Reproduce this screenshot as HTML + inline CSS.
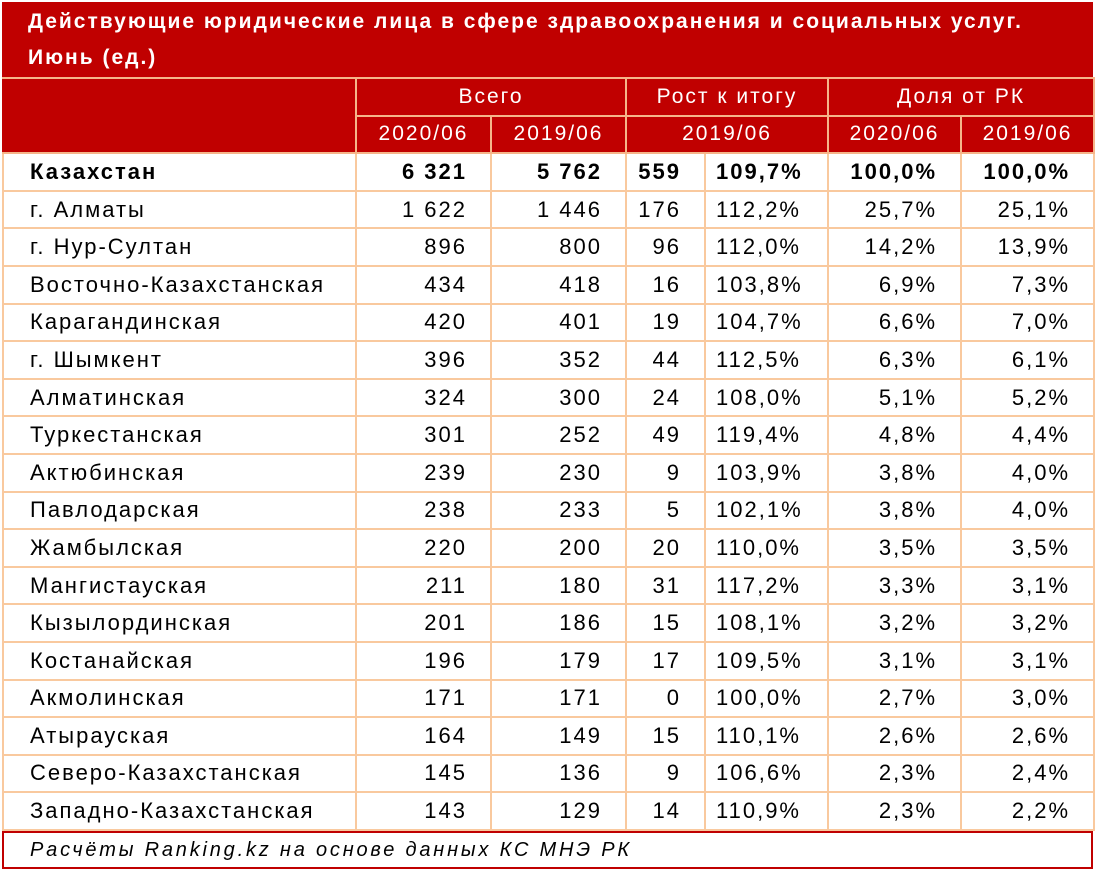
<!DOCTYPE html>
<html><head><meta charset="utf-8"><style>
body{margin:0;background:#fff;width:1097px;height:872px;overflow:hidden;font-family:"Liberation Sans",sans-serif;letter-spacing:2px;}
#w{position:absolute;left:2px;top:2px;width:1091px;}
.title{background:#C00000;color:#fff;font-weight:bold;font-size:21px;height:75px;padding-left:26px;line-height:36px;box-sizing:border-box;padding-top:2px;}
table{border-collapse:collapse;table-layout:fixed;width:1091px;font-size:22px;}
tr{height:37.6px;}
td{border:2px solid #F9C99E;padding:0 23px 0 8px;text-align:right;white-space:nowrap;overflow:hidden;}
td.l{text-align:left;padding-left:26px;}
tr.h td{background:#C00000;color:#fff;text-align:center;border-color:#F5B58A;padding:0;font-size:21px;}
tr.b td{font-weight:bold;}
td.c{text-align:left;padding-left:10px;}
.foot{border:2px solid #C00000;height:38px;box-sizing:border-box;font-style:italic;font-size:20px;letter-spacing:2.8px;padding-left:26px;line-height:34px;}
.tb{border-left:2px solid #C00000;border-right:2px solid #C00000;}
</style></head><body><div id="w">
<div class="title">Действующие юридические лица в сфере здравоохранения и социальных услуг.<br>Июнь (ед.)</div>
<table class="tb">
<colgroup><col style="width:353px"><col style="width:135px"><col style="width:135px"><col style="width:79px"><col style="width:123px"><col style="width:133px"><col style="width:133px"></colgroup>
<tr class="h"><td rowspan="2" style="border-left-color:#C00000"></td><td colspan="2">Всего</td><td colspan="2">Рост к итогу</td><td colspan="2">Доля от РК</td></tr>
<tr class="h"><td>2020/06</td><td>2019/06</td><td colspan="2">2019/06</td><td>2020/06</td><td>2019/06</td></tr>
<tr class="b"><td class="l">Казахстан</td><td>6 321</td><td>5 762</td><td>559</td><td class="c">109,7%</td><td>100,0%</td><td>100,0%</td></tr>
<tr><td class="l">г. Алматы</td><td>1 622</td><td>1 446</td><td>176</td><td class="c">112,2%</td><td>25,7%</td><td>25,1%</td></tr>
<tr><td class="l">г. Нур-Султан</td><td>896</td><td>800</td><td>96</td><td class="c">112,0%</td><td>14,2%</td><td>13,9%</td></tr>
<tr><td class="l">Восточно-Казахстанская</td><td>434</td><td>418</td><td>16</td><td class="c">103,8%</td><td>6,9%</td><td>7,3%</td></tr>
<tr><td class="l">Карагандинская</td><td>420</td><td>401</td><td>19</td><td class="c">104,7%</td><td>6,6%</td><td>7,0%</td></tr>
<tr><td class="l">г. Шымкент</td><td>396</td><td>352</td><td>44</td><td class="c">112,5%</td><td>6,3%</td><td>6,1%</td></tr>
<tr><td class="l">Алматинская</td><td>324</td><td>300</td><td>24</td><td class="c">108,0%</td><td>5,1%</td><td>5,2%</td></tr>
<tr><td class="l">Туркестанская</td><td>301</td><td>252</td><td>49</td><td class="c">119,4%</td><td>4,8%</td><td>4,4%</td></tr>
<tr><td class="l">Актюбинская</td><td>239</td><td>230</td><td>9</td><td class="c">103,9%</td><td>3,8%</td><td>4,0%</td></tr>
<tr><td class="l">Павлодарская</td><td>238</td><td>233</td><td>5</td><td class="c">102,1%</td><td>3,8%</td><td>4,0%</td></tr>
<tr><td class="l">Жамбылская</td><td>220</td><td>200</td><td>20</td><td class="c">110,0%</td><td>3,5%</td><td>3,5%</td></tr>
<tr><td class="l">Мангистауская</td><td>211</td><td>180</td><td>31</td><td class="c">117,2%</td><td>3,3%</td><td>3,1%</td></tr>
<tr><td class="l">Кызылординская</td><td>201</td><td>186</td><td>15</td><td class="c">108,1%</td><td>3,2%</td><td>3,2%</td></tr>
<tr><td class="l">Костанайская</td><td>196</td><td>179</td><td>17</td><td class="c">109,5%</td><td>3,1%</td><td>3,1%</td></tr>
<tr><td class="l">Акмолинская</td><td>171</td><td>171</td><td>0</td><td class="c">100,0%</td><td>2,7%</td><td>3,0%</td></tr>
<tr><td class="l">Атырауская</td><td>164</td><td>149</td><td>15</td><td class="c">110,1%</td><td>2,6%</td><td>2,6%</td></tr>
<tr><td class="l">Северо-Казахстанская</td><td>145</td><td>136</td><td>9</td><td class="c">106,6%</td><td>2,3%</td><td>2,4%</td></tr>
<tr><td class="l">Западно-Казахстанская</td><td>143</td><td>129</td><td>14</td><td class="c">110,9%</td><td>2,3%</td><td>2,2%</td></tr>
</table>
<div class="foot">Расчёты Ranking.kz на основе данных КС МНЭ РК</div>
</div></body></html>
